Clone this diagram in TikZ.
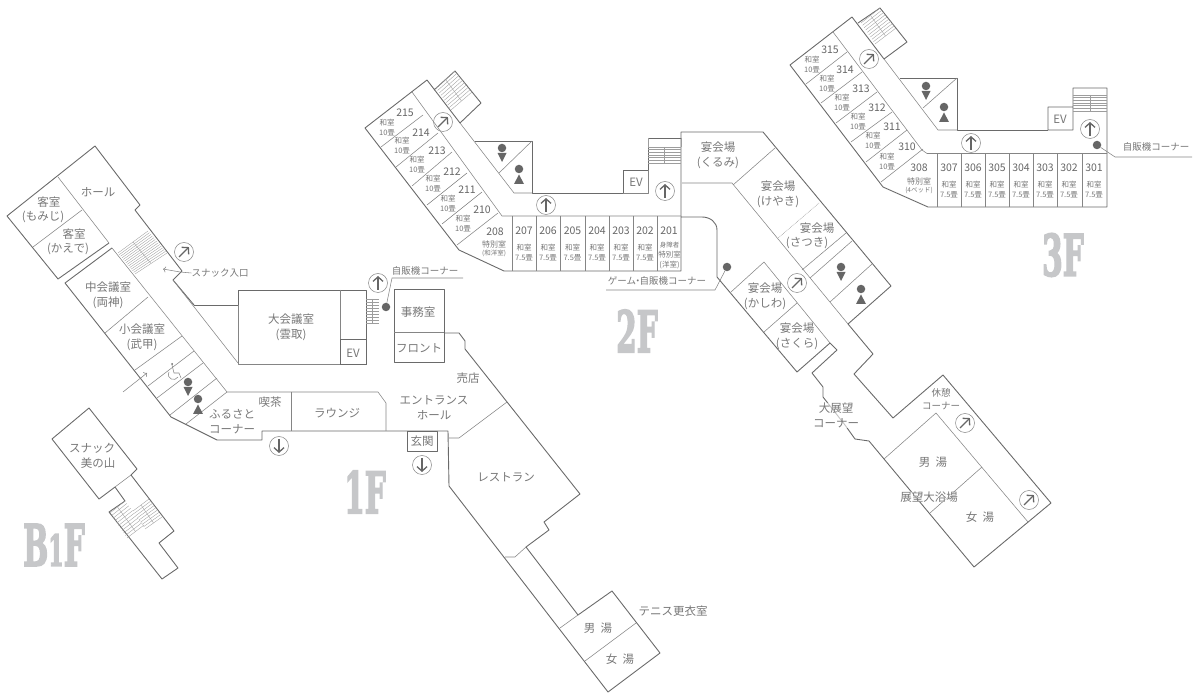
\documentclass[tikz,border=0pt]{standalone}
\usepackage{fontspec}
\setmainfont{Noto Sans CJK JP}
\newfontfamily\bigfont[BoldFeatures={FakeBold=3.5}]{DejaVu Serif}
\usetikzlibrary{calc,arrows.meta}

\definecolor{wallgray}{HTML}{6A6A6A}
\definecolor{thingray}{HTML}{858585}
\definecolor{txtgray}{HTML}{777777}
\definecolor{markgray}{HTML}{666666}
\definecolor{floorgray}{HTML}{C6C7C9}

\tikzset{
  wall/.style={draw=wallgray, line width=0.9pt, line join=round},
  thinwall/.style={draw=thingray, line width=0.55pt, line join=round},
  stairline/.style={draw=thingray!80, line width=0.35pt},
  roomtxt/.style={text=txtgray, inner sep=0pt, align=center, font=\fontsize{11.5}{15}\selectfont},
  notetxt/.style={text=txtgray, inner sep=0pt, align=center, font=\fontsize{9.5}{13}\selectfont},
  numtxt/.style={text=markgray, inner sep=0pt, font=\fontsize{10.5}{12}\selectfont},
  tinytxt/.style={text=txtgray, inner sep=0pt, align=center, font=\fontsize{7.5}{10}\selectfont},
  floortxt/.style={text=floorgray, inner sep=0pt, font=\bigfont\bfseries\fontsize{57}{57}\selectfont},
  dirmark/.style={circle, draw=thingray, line width=0.5pt, minimum size=19pt, inner sep=0pt},
  dirarrow/.style={-{Straight Barb[length=4.5pt,width=10pt]}, draw=markgray, line width=1.3pt},
  spot/.style={circle, fill=markgray, minimum size=8.5pt, inner sep=0pt},
}

% direction mark: name, position, angle
\newcommand\dirsign[3]{
  \node[dirmark] (#1) at (#2) {};
  \draw[dirarrow] ($(#1)+(#3+180:7pt)$) -- ($(#1)+(#3:7pt)$);
}
% toilet signs: head position, triangle apex and base are offsets from it
\newcommand\mensign[2]{
  \node[spot] (#1) at (#2) {};
  \fill[markgray] ($(#1)+(-4.5pt,-5pt)$) -- ($(#1)+(4.5pt,-5pt)$) -- ($(#1)+(0pt,-14pt)$) -- cycle;
}
\newcommand\womensign[2]{
  \node[spot] (#1) at (#2) {};
  \fill[markgray] ($(#1)+(0pt,-5.5pt)$) -- ($(#1)+(5pt,-15pt)$) -- ($(#1)+(-5pt,-15pt)$) -- cycle;
}
% stairs: four corners and the number of treads
\newcommand\stairs[5]{
  \foreach \i in {0,...,#5}
    \draw[stairline] ($(#1)!{\i/#5}!(#4)$) -- ($(#2)!{\i/#5}!(#3)$);
  \draw[stairline] ($(#1)!.5!(#2)$) -- ($(#4)!.5!(#3)$);
}

\begin{document}
\begin{tikzpicture}[x=1pt, y=-1pt]
  \useasboundingbox (0,0) rectangle (1200,700);

  % B1F
  \draw[wall] (115,487) -- (99,499) -- (52,439) -- (89,408) -- (137,469) -- (131,475)
    -- (174,531) -- (159,543) -- (178,568) -- (162,579) -- (109,512) -- (125,501) -- (115,487);
  \draw[thinwall] (131,475) -- (115,487);
  \stairs{110,513}{125,501}{144,525}{127,538}{10}
  \stairs{133,511}{149,499}{162,517}{145,529}{8}
  \node[roomtxt] (snack1) at (92,448) {スナック};
  \node[roomtxt] (snack2) at (98,463) {美の山};
  \node[floortxt] (floorb) at (54,545) {\scalebox{0.52}[1]{B\scalebox{0.75}{1}F}};

  % 1F
  \draw[wall] (109,243) -- (58,279) -- (7,216) -- (95,146) -- (140,205) -- (135,210)
    -- (182,271) -- (173,280) -- (194,305);
  \draw[wall] (112,248) -- (65,283) -- (171,417) -- (217,440) -- (262,440) -- (262,431)
    -- (448,431) -- (449,486) -- (608,692) -- (660,653) -- (612,591) -- (578,615)
    -- (526,547) -- (549,530) -- (544,522) -- (580,494) -- (465,349) -- (465,341)
    -- (459,333) -- (444,333);
  \draw[thinwall] (58,177) -- (109,243);
  \draw[thinwall] (82,210) -- (33,247);
  \draw[thinwall] (112,248) -- (227,392) -- (378,392) -- (386,403) -- (386,431);
  \draw[thinwall] (173,280) -- (238,363);
  \draw[wall] (194,305) -- (238,305) -- (238,290) -- (366,290) -- (366,364) -- (340,364);
  \draw[thinwall] (340,364) -- (238,364) -- (238,305);
  \draw[thinwall] (340,290) -- (340,364);
  \draw[wall] (340,339) rectangle (366,364);
  \draw[thinwall] (148,297) -- (105,333);
  \draw[thinwall] (182,336) -- (135,370);
  \draw[thinwall] (194,351) -- (148,386);
  \draw[thinwall] (203,363) -- (157,398);
  \draw[thinwall] (217,378) -- (170,415);
  \draw[thinwall] (227,392) -- (186,424);
  \draw[thinwall] (291,392) -- (291,431);
  \draw[wall] (394,289) rectangle (444,362);
  \draw[thinwall] (394,332) -- (444,332);
  \draw[wall] (407,431) rectangle (437,451);
  \draw[thinwall] (449,438) -- (459,438) -- (507,402);
  \draw[thinwall] (505,557) -- (515,557) -- (526,547);
  \draw[thinwall] (578,615) -- (560,628);
  \draw[thinwall] (636,623) -- (585,661);
  \stairs{118,253}{148,231}{167,253}{135,274}{13}
  \stairs{366,299}{379,299}{379,323}{366,323}{8}
  \draw[->, thinwall] (123,392) -- (147,373);
  \draw[thinwall] (172,365) -- (174,373) -- (179,373) -- (181,378);
  \draw[thinwall] (169,372) .. controls (166,379) and (175,382) .. (178,377);
  \node[spot, minimum size=2pt] (wheel) at (172,364) {};
  \node[notetxt] (snackin) at (220,273) {スナック入口};
  \draw[->, thinwall] (snackin.west) -- (180,272) -- (163,269);
  \node[spot] (vend1) at (386,307) {};
  \node[notetxt] (vendtxt1) at (425,271) {自販機コーナー};
  \coordinate (vendbend1) at (392,278);
  \coordinate (vendend1) at (463,278);
  \draw[thinwall] (vend1) -- (vendbend1) -- (vendend1);
  \dirsign{up1a}{184,252}{45}
  \dirsign{down1a}{279,446}{-90}
  \dirsign{up1b}{378,283}{90}
  \dirsign{down1b}{422,465}{-90}
  \mensign{men1}{188,382}
  \womensign{women1}{198,399}
  \node[roomtxt] (hall) at (98,192) {ホール};
  \node[roomtxt] (momiji1) at (49,202) {客室};
  \node[roomtxt] (momiji2) at (43,217) {(もみじ)};
  \node[roomtxt] (kaede1) at (74,234) {客室};
  \node[roomtxt] (kaede2) at (68,249) {(かえで)};
  \node[roomtxt] (ryojin) at (108,295.5) {中会議室\\(両神)};
  \node[roomtxt] (bukou) at (142,337.5) {小会議室\\(武甲)};
  \node[roomtxt] (kissa) at (270,402) {喫茶};
  \node[roomtxt] (furusato) at (232,421.5) {ふるさと\\コーナー};
  \node[roomtxt] (kumotori) at (291,327.5) {大会議室\\(雲取)};
  \node[roomtxt] (ev1) at (353,353) {EV};
  \node[roomtxt] (office) at (418,312) {事務室};
  \node[roomtxt] (front) at (419,348) {フロント};
  \node[roomtxt] (shop) at (468,378) {売店};
  \node[roomtxt] (entrance) at (434,407.5) {エントランス\\ホール};
  \node[roomtxt] (lounge) at (337,413) {ラウンジ};
  \node[roomtxt] (genkan) at (422,441) {玄関};
  \node[roomtxt] (restaurant) at (506,477) {レストラン};
  \node[roomtxt] (tennism) at (598,628) {男\ \ 湯};
  \node[roomtxt] (tennisw) at (620,659) {女\ \ 湯};
  \node[roomtxt] (tennis) at (673,611) {テニス更衣室};
  \node[floortxt] (floor1) at (365,492) {\scalebox{0.52}[1]{1F}};

  % 2F
  \draw[wall] (427,80) -- (365,128) -- (459,250) -- (504,271) -- (681,271) -- (681,132)
    -- (763,132) -- (891,286) -- (848,324) -- (873,354) -- (854,374) -- (893,418)
    -- (943,375) -- (1051,503) -- (974,567) -- (869,441) -- (855,439) -- (845,425)
    -- (823,397) -- (823,387) -- (812,373) -- (837,350) -- (830,343) -- (797,372)
    -- (717,277) -- (717,230) .. controls (717,222) and (710,217) .. (702,217) -- (681,217);
  \draw[wall] (427,80) -- (460,123) -- (481,103) -- (455,71) -- (434,90);
  \draw[thinwall] (460,123) -- (514,193) -- (532,193);
  \draw[wall] (475,141) -- (532,141) -- (532,193) -- (623,193) -- (623,170) -- (648,170)
    -- (648,138) -- (681,138);
  \draw[thinwall] (623,193) -- (648,193) -- (648,170);
  \draw[thinwall] (532,141) -- (499,173);
  \draw[thinwall] (412,92) -- (502,216) -- (681,216);
  \draw[thinwall] (423,115) -- (381,147);
  \draw[thinwall] (438,133) -- (396,167);
  \draw[thinwall] (452,152) -- (412,186);
  \draw[thinwall] (467,173) -- (427,205);
  \draw[thinwall] (482,192) -- (442,224);
  \draw[thinwall] (498,213) -- (457,245);
  \foreach \x in {512,536,560,585,609,633,657}
    \draw[thinwall] (\x,216) -- (\x,271);
  \draw[thinwall] (682,183) -- (732,183) -- (848,324);
  \draw[thinwall] (775,148) -- (733,185);
  \draw[thinwall, densely dotted] (819,203) -- (778,238);
  \draw[thinwall] (846,233) -- (802,270);
  \draw[thinwall] (852,241) -- (810,278);
  \draw[thinwall] (872,264) -- (830,302);
  \draw[thinwall] (731,292) -- (764,262) -- (830,343);
  \draw[thinwall] (797,303) -- (764,332);
  \draw[thinwall] (884,459) -- (936,413) -- (1028,522);
  \draw[thinwall] (982,467) -- (930,513);
  \stairs{436,88}{455,71}{472,92}{451,110}{9}
  \stairs{648,147}{681,147}{681,163}{648,163}{6}
  \draw[stairline] (648,138) -- (648,147) (681,138) -- (681,147);
  \dirsign{up2a}{443,122}{45}
  \dirsign{up2b}{546,205}{90}
  \dirsign{up2c}{665,191}{90}
  \dirsign{up2d}{797,283}{45}
  \dirsign{up2e}{965,423}{45}
  \dirsign{up2f}{1029,500}{45}
  \mensign{men2a}{502,148}
  \womensign{women2a}{519,169}
  \mensign{men2b}{841,267}
  \womensign{women2b}{861,289}
  \node[spot] (vend2) at (727,267) {};
  \node[notetxt] (vendtxt2) at (657,281) {ゲーム\kern-3pt ・\kern-3pt 自販機コーナー};
  \coordinate (vendbend2) at (715,290);
  \coordinate (vendend2) at (606,290);
  \draw[thinwall] (vend2) -- (vendbend2) -- (vendend2);
  \node[numtxt] (r215) at (405,113) {215};
  \node[numtxt] (r214) at (421,133) {214};
  \node[numtxt] (r213) at (437,151) {213};
  \node[numtxt] (r212) at (452,172) {212};
  \node[numtxt] (r211) at (467,190) {211};
  \node[numtxt] (r210) at (482,210) {210};
  \foreach \x/\y/\n in {387/127.5/215,402/146/214,417/165/213,433/184/212,448/203.5/211,463/224/210}
    \node[tinytxt] (t\n) at (\x,\y) {和室\\10畳};
  \node[numtxt] (r208) at (495,232) {208};
  \node[tinytxt] (t208) at (494,244) {\fontsize{8}{10}\selectfont 特別室};
  \node[tinytxt] (u208) at (494,253) {\fontsize{6.5}{10}\selectfont (和洋室)};
  \foreach \x/\n in {524/207,548/206,572.5/205,597/204,621/203,645/202,669/201}
    \node[numtxt] (r\n) at (\x,231) {\n};
  \foreach \x/\n in {524/207,548/206,572.5/205,597/204,621/203,645/202}
    \node[tinytxt] (t\n) at (\x,252.5) {和室\\7.5畳};
  \node[tinytxt] (t201) at (669.5,255) {\fontsize{6.5}{9}\selectfont 身障者\\特別室\\(洋室)};
  \node[roomtxt] (ev2) at (636,182) {EV};
  \node[roomtxt] (kurumi) at (718,155.5) {宴会場\\(くるみ)};
  \node[roomtxt] (keyaki) at (778,194.5) {宴会場\\(けやき)};
  \node[roomtxt] (satsuki1) at (817,228) {宴会場};
  \node[roomtxt] (satsuki2) at (807,243) {(さつき)};
  \node[roomtxt] (kashiwa) at (765,296.5) {宴会場\\(かしわ)};
  \node[roomtxt] (sakura) at (797,336.5) {宴会場\\(さくら)};
  \node[roomtxt, fill=white, fill opacity=0.6, text opacity=1] (viewspot) at (836,415.5) {大展望\\コーナー};
  \node[notetxt] (rest) at (941,399.5) {休憩\\コーナー};
  \node[roomtxt] (bathm) at (933,462) {男\ \ 湯};
  \node[roomtxt] (bathw) at (980,517) {女\ \ 湯};
  \node[roomtxt, fill=white, fill opacity=0.6, text opacity=1] (bath) at (929,497) {展望大浴場};
  \node[floortxt] (floor2) at (637,331) {\scalebox{0.52}[1]{2F}};

  % 3F
  \draw[wall] (852,17) -- (790,65) -- (883,187) -- (928,207) -- (1107,207) -- (1107,88)
    -- (1073,88) -- (1073,130) -- (1048,130) -- (1048,107) -- (1073,107);
  \draw[wall] (1048,130) -- (957,130) -- (957,78) -- (900,78);
  \draw[wall] (852,17) -- (884,59) -- (907,42) -- (880,8) -- (858,23);
  \draw[thinwall] (884,59) -- (938,130) -- (957,130);
  \draw[thinwall] (957,78) -- (923,108);
  \draw[thinwall] (833,32) -- (922,150) -- (927,153.5) -- (1107,153.5);
  \draw[thinwall] (847,52) -- (806,84);
  \draw[thinwall] (862,72) -- (821,103);
  \draw[thinwall] (877,92) -- (836,123);
  \draw[thinwall] (892,112) -- (851,142);
  \draw[thinwall] (907,130) -- (866,162);
  \draw[thinwall] (923,149) -- (881,182);
  \foreach \x in {937,961,985,1009,1033,1057,1082}
    \draw[thinwall] (\x,153.5) -- (\x,207);
  \stairs{861,23}{880,8}{896,28}{875,44}{9}
  \stairs{1073,95}{1107,95}{1107,111}{1073,111}{6}
  \dirsign{up3a}{869,59}{45}
  \dirsign{up3b}{971,143}{90}
  \dirsign{up3c}{1090,129}{90}
  \mensign{men3}{926,86}
  \womensign{women3}{944,107}
  \node[spot] (vend3) at (1097,145) {};
  \node[notetxt] (vendtxt3) at (1156,147) {自販機コーナー};
  \coordinate (vendbend3) at (1115,157);
  \coordinate (vendend3) at (1192,157);
  \draw[thinwall] (vend3) -- (vendbend3) -- (vendend3);
  \node[numtxt] (r315) at (830,50) {315};
  \node[numtxt] (r314) at (845,70) {314};
  \node[numtxt] (r313) at (861,89) {313};
  \node[numtxt] (r312) at (877,108) {312};
  \node[numtxt] (r311) at (892,127) {311};
  \node[numtxt] (r310) at (907,147) {310};
  \foreach \x/\y/\n in {812/64.5/315,827/83.5/314,842/103/313,858/121.5/312,873/141/311,887/161.5/310}
    \node[tinytxt] (t\n) at (\x,\y) {和室\\10畳};
  \node[numtxt] (r308) at (919,168) {308};
  \node[tinytxt] (t308) at (919,181) {\fontsize{8}{10}\selectfont 特別室};
  \node[tinytxt] (u308) at (919,190) {\fontsize{6.5}{10}\selectfont (4ベッド)};
  \foreach \x/\n in {949/307,973/306,997/305,1021/304,1045/303,1069/302,1094/301}{
    \node[numtxt] (r\n) at (\x,168) {\n};
    \node[tinytxt] (t\n) at (\x,190) {和室\\7.5畳};
  }
  \node[roomtxt] (ev3) at (1060,119) {EV};
  \node[floortxt] (floor3) at (1063,255) {\scalebox{0.52}[1]{3F}};
\end{tikzpicture}
\end{document}
